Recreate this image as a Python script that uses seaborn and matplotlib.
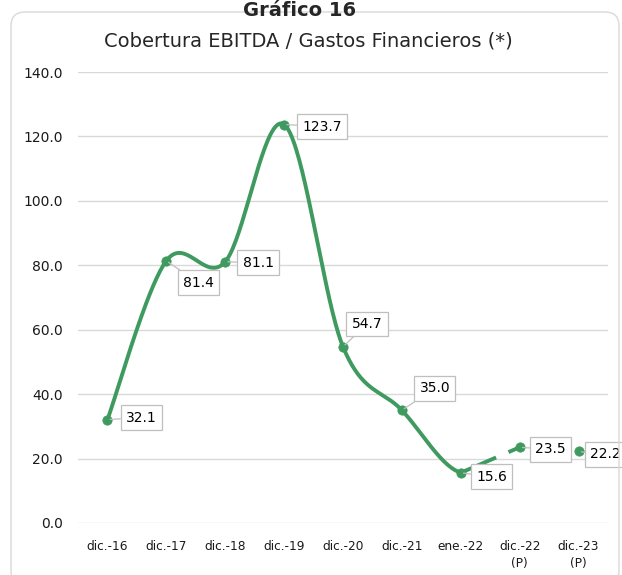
import numpy as np
import pandas as pd
import seaborn as sns
import matplotlib.pyplot as plt
from matplotlib.patches import FancyBboxPatch

# datos del grafico
categorias = ["dic.-16", "dic.-17", "dic.-18", "dic.-19", "dic.-20", "dic.-21", "ene.-22", "dic.-22\n(P)", "dic.-23\n(P)"]
cobertura = [32.1, 81.4, 81.1, 123.7, 54.7, 35.0, 15.6, 23.5, 22.2]
etiquetas = ["32.1", "81.4", "81.1", "123.7", "54.7", "35.0", "15.6", "23.5", "22.2"]

# desplazamiento de las etiquetas (pixeles)
offsets = [(34, 2), (32, -22), (33, -1), (38, -2), (24, 23), (33, 22), (31, -4), (31, -2), (27, -3)]

verde = "#3f9a5f"

sns.set_style("white")
plt.rcParams["font.family"] = ["DejaVu Sans"]

fig = plt.figure(figsize=(6.22, 5.75), dpi=100)
ax = fig.add_axes([78/622, 1 - 523/575, 530/622, 451/575])

# marco redondeado (en pixeles)
marco = FancyBboxPatch((11, -10), 608, 573, transform=None,
                       boxstyle="round,pad=0,rounding_size=14", fc="none", ec="#d9d9d9", lw=1, zorder=0)
fig.patches.append(marco)

x = np.arange(len(cobertura), dtype=float)
y = np.array(cobertura)

# curva suavizada (bezier tipo catmull-rom) entre dic.-16 y ene.-22
def suavizar(px, py, hasta, n=40):
    xs, ys = [], []
    m = len(px)
    for i in range(hasta):
        p0 = np.array([px[max(i-1, 0)], py[max(i-1, 0)]])
        p1 = np.array([px[i], py[i]])
        p2 = np.array([px[i+1], py[i+1]])
        p3 = np.array([px[min(i+2, m-1)], py[min(i+2, m-1)]])
        c1 = p1 + (p2 - p0) / 6
        c2 = p2 - (p3 - p1) / 6
        t = np.linspace(0, 1, n)[:, None]
        b = (1-t)**3*p1 + 3*(1-t)**2*t*c1 + 3*(1-t)*t**2*c2 + t**3*p2
        xs.extend(b[:, 0]); ys.extend(b[:, 1])
    return np.array(xs), np.array(ys)

sx, sy = suavizar(x[:8], y[:8], 6)
df_curva = pd.DataFrame({"x": sx, "y": sy})
sns.lineplot(data=df_curva, x="x", y="y", sort=False, color=verde, lw=2.8, ax=ax)

# tramo ene.-22 -> dic.-22 con un corte
for t0, t1 in [(0, 0.6), (0.81, 1)]:
    tt = np.linspace(t0, t1, 10)
    ax.plot(x[6] + tt*(x[7]-x[6]), y[6] + tt*(y[7]-y[6]), color=verde, lw=2.8, solid_capstyle="butt")

sns.scatterplot(x=x, y=y, color=verde, s=45, edgecolor=verde, zorder=5, ax=ax)

for xi, yi, lab, (dx, dy) in zip(x, y, etiquetas, offsets):
    ax.annotate(lab, (xi, yi), xytext=(dx, dy), textcoords="offset pixels", ha="center", va="center",
                fontsize=10, color="#000000", annotation_clip=False, zorder=6,
                bbox=dict(boxstyle="square,pad=0.38", fc="white", ec="#bfbfbf", lw=0.9),
                arrowprops=dict(arrowstyle="-", color="#bfbfbf", lw=0.9, shrinkA=0, shrinkB=2))

ax.set_xlim(-0.5, 8.5)
ax.set_ylim(0, 140)
ax.set_yticks(np.arange(0, 141, 20))
ax.set_yticklabels([f"{v:.1f}" for v in np.arange(0, 141, 20)], fontsize=10, color="#1a1a1a")
ax.set_xticks(x)
ax.set_xticklabels(categorias, fontsize=8.7, color="#1a1a1a", linespacing=1.45)
ax.tick_params(axis="y", length=0, pad=11)
ax.tick_params(axis="x", length=0, pad=12)
ax.grid(axis="y", color="#d9d9d9", lw=1)
ax.set_axisbelow(True)
ax.set_xlabel("")
ax.set_ylabel("")
for s in ax.spines.values():
    s.set_visible(False)

fig.text(300/622, 1 - 16/575, "Gráfico 16", ha="center", va="baseline", fontsize=14, fontweight="bold")
fig.text(308/622, 1 - 41/575, "Cobertura EBITDA / Gastos Financieros (*)", ha="center", va="center", fontsize=14)

fig.savefig("out.png", dpi=100)
